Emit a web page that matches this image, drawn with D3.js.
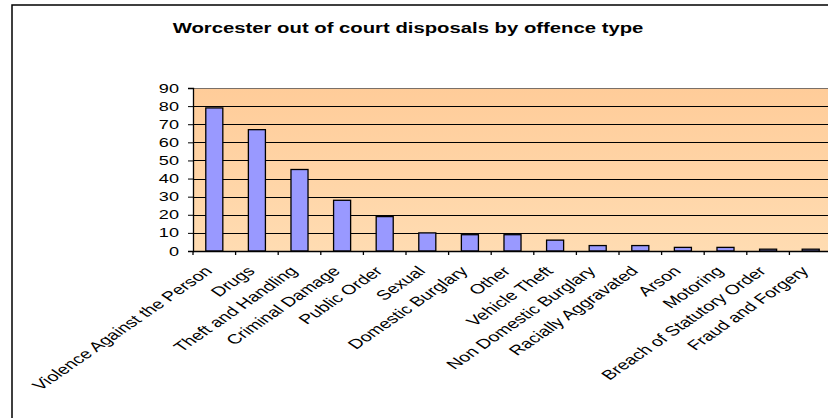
<!DOCTYPE html>
<html>
<head>
<meta charset="utf-8">
<script src="https://cdn.jsdelivr.net/npm/d3@7"></script>
<style>
  body { margin: 0; background: #fff; }
  svg { display: block; font-family: "Liberation Sans", Arial, sans-serif; }
</style>
</head>
<body>
<div id="chart"></div>
<script>
// data
var categories = ['Violence Against the Person', 'Drugs', 'Theft and Handling', 'Criminal Damage',
                  'Public Order', 'Sexual', 'Domestic Burglary', 'Other', 'Vehicle Theft',
                  'Non Domestic Burglary', 'Racially Aggravated', 'Arson', 'Motoring',
                  'Breach of Statutory Order', 'Fraud and Forgery'];
var values = [79, 67, 45, 28, 19, 10, 9, 9, 6, 3, 3, 2, 2, 1, 1];
var yTicks = [0, 10, 20, 30, 40, 50, 60, 70, 80, 90];
var title = 'Worcester out of court disposals by offence type';

var width = 828, height = 418;
var plot = { left: 193, top: 88, right: 832, bottom: 251 };
var stretch = 1.45; // the picture's text is drawn wide

var svg = d3.select('#chart').append('svg')
            .attr('width', width)
            .attr('height', height);

var defs = svg.append('defs');
var grad = defs.append('linearGradient')
               .attr('id', 'bg')
               .attr('x1', 0).attr('y1', 0)
               .attr('x2', 0).attr('y2', 1);
grad.append('stop').attr('offset', '0%').attr('stop-color', '#ffcc99');
grad.append('stop').attr('offset', '100%').attr('stop-color', '#ffdcb2');

// outer chart border
svg.append('rect')
   .attr('x', 12).attr('y', 5)
   .attr('width', width + 20).attr('height', height + 20)
   .attr('fill', '#fff')
   .attr('stroke', '#000')
   .attr('stroke-width', 1.5);

var x = d3.scaleBand()
          .domain(categories)
          .range([plot.left, plot.right])
          .paddingInner(0.6)
          .paddingOuter(0.3);

var y = d3.scaleLinear()
          .domain([0, 90])
          .range([plot.bottom, plot.top]);

// plot background
svg.append('rect')
   .attr('x', plot.left).attr('y', plot.top)
   .attr('width', plot.right - plot.left)
   .attr('height', plot.bottom - plot.top)
   .attr('fill', 'url(#bg)');

// gridlines
svg.append('g')
   .selectAll('line')
   .data(yTicks.filter(function (d) { return d > 0; }))
   .enter()
   .append('line')
   .attr('x1', plot.left).attr('x2', plot.right)
   .attr('y1', function (d) { return Math.round(y(d)) + 0.5; })
   .attr('y2', function (d) { return Math.round(y(d)) + 0.5; })
   .attr('stroke', function (d) { return d === 90 ? '#7a7068' : '#000'; })
   .attr('stroke-width', 1);

// bars
svg.append('g')
   .selectAll('rect')
   .data(values)
   .enter()
   .append('rect')
   .attr('x', function (d, i) { return x(categories[i]); })
   .attr('y', function (d) { return y(d); })
   .attr('width', x.bandwidth())
   .attr('height', function (d) { return plot.bottom - y(d); })
   .attr('fill', '#9999ff')
   .attr('stroke', '#000')
   .attr('stroke-width', 1.3);

// y axis
var yAxis = d3.axisLeft(y).tickValues(yTicks).tickSize(5).tickFormat('');
svg.append('g')
   .attr('transform', 'translate(' + plot.left + ',0)')
   .call(yAxis)
   .call(function (g) { g.select('.domain').attr('stroke', '#000').attr('stroke-width', 1.3); });

svg.append('g')
   .selectAll('text')
   .data(yTicks)
   .enter()
   .append('text')
   .attr('transform', function (d) { return 'translate(179,' + (y(d) + 4.5) + ') scale(' + stretch + ',1)'; })
   .attr('text-anchor', 'end')
   .attr('font-size', 12.5)
   .attr('fill', '#000')
   .text(function (d) { return d; });

// x axis
var step = x.step();
svg.append('line')
   .attr('x1', plot.left).attr('x2', plot.right)
   .attr('y1', plot.bottom + 0.5).attr('y2', plot.bottom + 0.5)
   .attr('stroke', '#000').attr('stroke-width', 1.3);
svg.append('g')
   .selectAll('line')
   .data(d3.range(categories.length + 1))
   .enter()
   .append('line')
   .attr('x1', function (i) { return plot.left + i * step; })
   .attr('x2', function (i) { return plot.left + i * step; })
   .attr('y1', plot.bottom).attr('y2', plot.bottom + 4)
   .attr('stroke', '#000').attr('stroke-width', 1.3);

svg.append('g')
   .selectAll('text')
   .data(categories)
   .enter()
   .append('text')
   .attr('transform', function (d) {
     var cx = x(d) + x.bandwidth() / 2;
     return 'translate(' + (cx - 1) + ',272) scale(' + stretch + ',1) rotate(-45)';
   })
   .attr('text-anchor', 'end')
   .attr('font-size', 13.5)
   .attr('fill', '#000')
   .text(function (d) { return d; });

// title
svg.append('text')
   .attr('transform', 'translate(408,33) scale(' + stretch + ',1)')
   .attr('text-anchor', 'middle')
   .attr('font-size', 14)
   .attr('font-weight', 'bold')
   .attr('fill', '#000')
   .text(title);
</script>
</body>
</html>
